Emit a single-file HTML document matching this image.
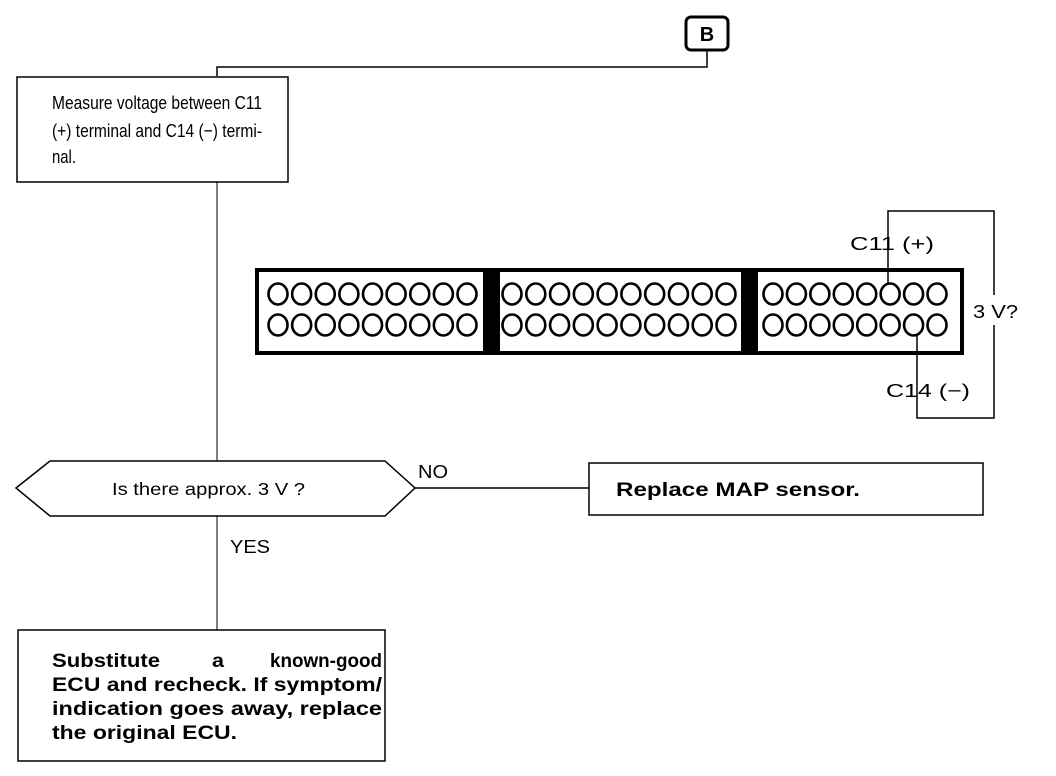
<!DOCTYPE html>
<html><head><meta charset="utf-8"><style>
html,body{margin:0;padding:0;background:#fff;}
svg{display:block;}
text{font-family:"Liberation Sans",sans-serif;fill:#000;}
</style></head><body>
<svg width="1056" height="776" viewBox="0 0 1056 776" xmlns="http://www.w3.org/2000/svg">
<g fill="none" stroke="#000">
<rect x="686" y="17" width="42" height="33" rx="5" stroke-width="3"/>
<polyline points="707,50 707,67 217,67 217,76" stroke-width="1.5"/>
<rect x="17" y="77" width="271" height="105" stroke-width="1.5"/>
<line x1="217" y1="182" x2="217" y2="461" stroke-width="1"/>
<polygon points="16,488 50,461 385,461 415,488 385,516 50,516" stroke-width="1.5"/>
<line x1="415" y1="488" x2="589" y2="488" stroke-width="1.5"/>
<rect x="589" y="463" width="394" height="52" stroke-width="1.5"/>
<line x1="217" y1="516" x2="217" y2="630" stroke-width="1"/>
<rect x="18" y="630" width="367" height="131" stroke-width="1.5"/>
<rect x="257" y="270" width="705" height="83" stroke-width="4"/>
<polyline points="888,284 888,211 994,211 994,295" stroke-width="1.5"/>
<polyline points="994,325 994,418 917,418 917,336" stroke-width="1.5"/>
</g>
<rect x="483" y="270" width="17" height="83" fill="#000"/>
<rect x="741" y="270" width="17" height="83" fill="#000"/>
<g fill="none" stroke="#000" stroke-width="2.6" id="circles"></g>
<text x="707" y="41" font-size="20" font-weight="bold" text-anchor="middle">B</text>
<text font-size="18.5"><tspan x="52" y="109" textLength="210" lengthAdjust="spacingAndGlyphs">Measure  voltage  between  C11</tspan><tspan x="52" y="137" textLength="210" lengthAdjust="spacingAndGlyphs">(+) terminal and C14 (−) termi-</tspan><tspan x="52" y="163" textLength="24" lengthAdjust="spacingAndGlyphs">nal.</tspan></text>
<text x="850" y="250" font-size="18.5" textLength="84" lengthAdjust="spacingAndGlyphs">C11 (+)</text>
<text x="973" y="318" font-size="18.5" textLength="45" lengthAdjust="spacingAndGlyphs">3 V?</text>
<text x="886" y="397" font-size="18.5" textLength="84" lengthAdjust="spacingAndGlyphs">C14 (−)</text>
<text x="112" y="495" font-size="17.5" textLength="193" lengthAdjust="spacingAndGlyphs">Is there approx. 3 V ?</text>
<text x="418" y="478" font-size="18.5" textLength="30" lengthAdjust="spacingAndGlyphs">NO</text>
<text x="616" y="496" font-size="19.5" font-weight="bold" textLength="244" lengthAdjust="spacingAndGlyphs">Replace MAP sensor.</text>
<text x="230" y="553" font-size="18.5" textLength="40" lengthAdjust="spacingAndGlyphs">YES</text>
<g font-size="19.5" font-weight="bold">
<text x="52" y="667" textLength="108" lengthAdjust="spacingAndGlyphs">Substitute</text>
<text x="212" y="667" textLength="12" lengthAdjust="spacingAndGlyphs">a</text>
<text x="270" y="667" textLength="112" lengthAdjust="spacingAndGlyphs">known-good</text>
<text x="52" y="691" textLength="330" lengthAdjust="spacingAndGlyphs">ECU and recheck. If symptom/</text>
<text x="52" y="715" textLength="330" lengthAdjust="spacingAndGlyphs">indication goes away, replace</text>
<text x="52" y="739" textLength="185" lengthAdjust="spacingAndGlyphs">the original ECU.</text>
</g>
</svg>
<script>
var g=document.getElementById('circles');
function row(x0,x1,n){
 var step=(x1-x0)/(n-1);
 [294,325].forEach(function(y){
  for(var i=0;i<n;i++){
   var e=document.createElementNS('http://www.w3.org/2000/svg','ellipse');
   e.setAttribute('cx',x0+i*step);e.setAttribute('cy',y);
   e.setAttribute('rx',9.5);e.setAttribute('ry',10.5);
   g.appendChild(e);
  }
 });
}
row(278,467,9);row(512,726,10);row(773,937,8);
</script>
</body></html>
